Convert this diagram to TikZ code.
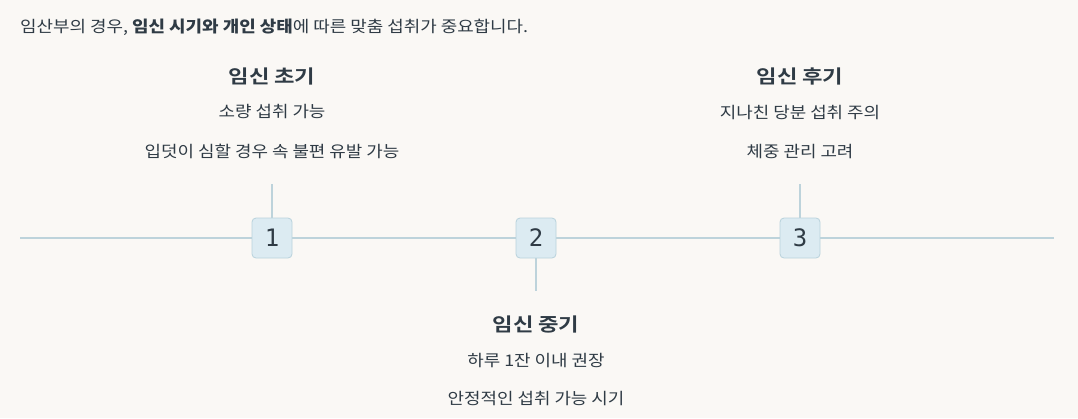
\documentclass[tikz,border=0pt]{standalone}
\usepackage{fontspec}
\setmainfont{Noto Sans CJK KR}
\newfontfamily\bodyfont{Noto Sans CJK KR}[FakeStretch=1.12]
\newfontfamily\titlefont{Noto Sans CJK KR Bold}[FakeStretch=1.19]
\newfontfamily\numfont{DejaVu Sans Mono}
\definecolor{bg}{HTML}{FAF8F5}
\definecolor{ink}{HTML}{2F3B45}
\definecolor{lineC}{HTML}{BDD3DB}
\definecolor{boxF}{HTML}{DCEBF2}
\definecolor{boxD}{HTML}{B9D2DC}
\tikzset{
  numbox/.style={draw=boxD, fill=boxF, line width=0.8pt, rounded corners=4pt, minimum width=40pt, minimum height=40pt, inner sep=0pt, text=ink, font=\numfont\fontsize{24}{28}\selectfont},
  conn/.style={draw=lineC, line width=1.6pt},
  ttl/.style={text=ink, font=\titlefont\fontsize{18.7}{22}\selectfont, inner sep=0pt},
  sub/.style={text=ink, font=\bodyfont\fontsize{16}{19}\selectfont, inner sep=0pt},
}
\begin{document}
\begin{tikzpicture}[x=1pt,y=-1pt]
\fill[bg] (0,0) rectangle (1078,418);
\useasboundingbox (0,0) rectangle (1078,418);
\node[sub, anchor=west] (head) at (20,27) {임산부의 경우, \textbf{임신 시기와 개인 상태}에 따른 맞춤 섭취가 중요합니다.};
\coordinate (L) at (20,238);
\coordinate (R) at (1054,238);
\draw[conn] (L) -- (R);
\coordinate (t1) at (272,184);
\coordinate (t2) at (536,291);
\coordinate (t3) at (800,184);
\node[numbox] (b1) at (272,238) {1};
\node[numbox] (b2) at (536,238) {2};
\node[numbox] (b3) at (800,238) {3};
\draw[conn] (t1) -- (b1.north);
\draw[conn] (b2.south) -- (t2);
\draw[conn] (t3) -- (b3.north);
\node[ttl] (h1) at (272,76) {임신 초기};
\node[sub] (a1) at (272,112) {소량 섭취 가능};
\node[sub] (c1) at (272,151) {입덧이 심할 경우 속 불편 유발 가능};
\node[ttl] (h3) at (800,76) {임신 후기};
\node[sub] (a3) at (800,113) {지나친 당분 섭취 주의};
\node[sub] (c3) at (800,152) {체중 관리 고려};
\node[ttl] (h2) at (536,324) {임신 중기};
\node[sub] (a2) at (536,361) {하루 1잔 이내 권장};
\node[sub] (c2) at (536,399) {안정적인 섭취 가능 시기};
\end{tikzpicture}
\end{document}
